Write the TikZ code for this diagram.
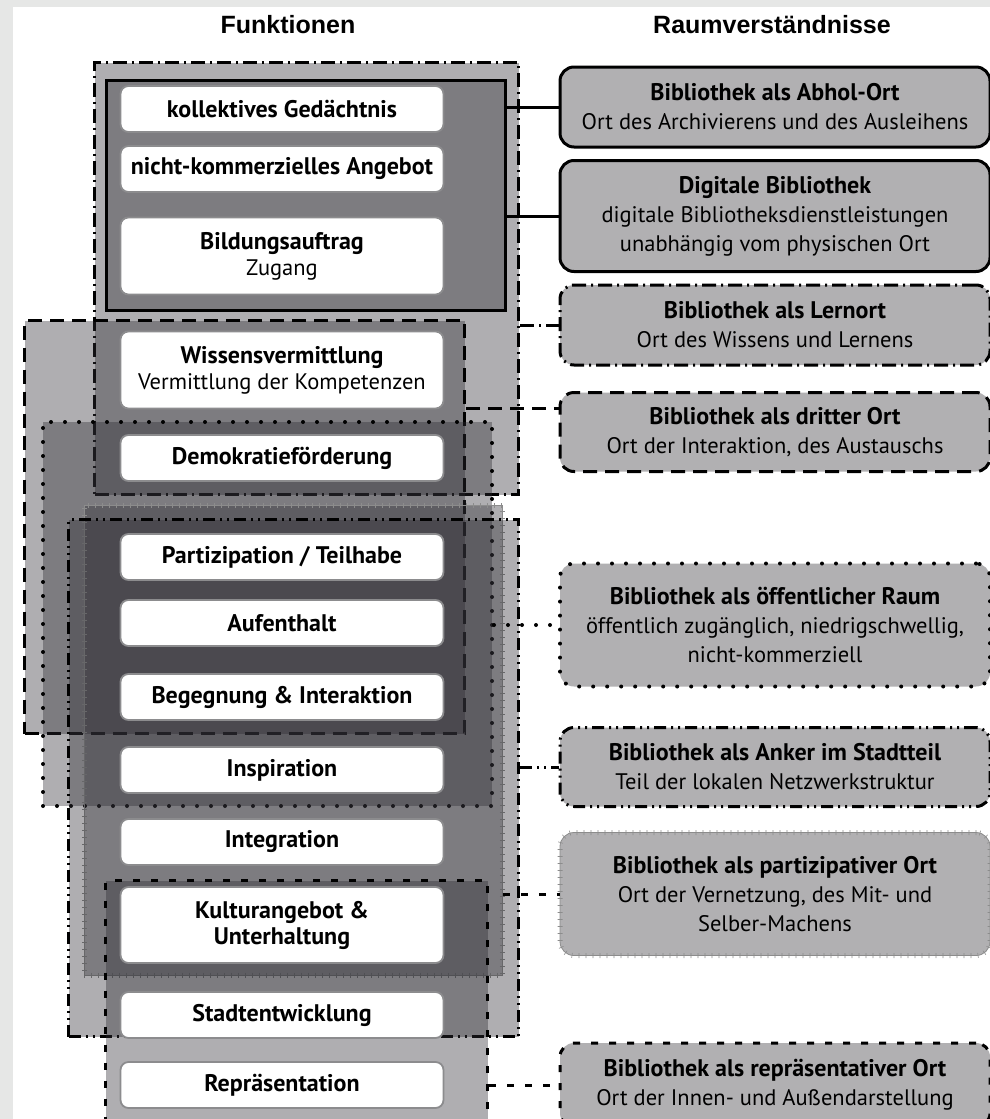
\documentclass[tikz,border=0pt]{standalone}
\usepackage{fontspec}
\setmainfont{PT Sans}
\newfontfamily\kopfschrift{Liberation Sans}
\usetikzlibrary{decorations.pathreplacing}

\definecolor{rahmengrau}{RGB}{230,231,230}
\definecolor{zonengrau}{RGB}{45,43,50}
\definecolor{kastengrau}{RGB}{177,176,178}
\definecolor{kantengrau}{RGB}{140,140,142}

\newcommand{\titel}[1]{{\bfseries\fontsize{24}{29}\selectfont #1}}
\newcommand{\zeile}[1]{{\mdseries\fontsize{22.5}{26}\selectfont #1}}

\tikzset{
    kopf/.style={font=\kopfschrift\bfseries\fontsize{25}{25}\selectfont, inner sep=0pt},
    funktion/.style={draw=kantengrau, line width=1.8pt, fill=white, rounded corners=8pt,
        minimum width=323pt, minimum height=46pt, inner sep=0pt, align=center,
        font=\bfseries\fontsize{24}{26}\selectfont},
    raum/.style={line width=3pt, fill=kastengrau, rounded corners=14pt,
        minimum width=430pt, inner sep=0pt, align=center,
        font=\fontsize{22.5}{29}\selectfont},
    zone/.style={line width=3pt, fill=zonengrau, fill opacity=0.38, draw opacity=1,
        anchor=north west, inner sep=0pt},
    durchgehend/.style={draw=black},
    strichpunkt/.style={draw=black, dash pattern=on 14pt off 5pt on 2pt off 5pt},
    gestrichelt/.style={draw=black, dash pattern=on 14pt off 8pt},
    gepunktet/.style={draw=black, line width=4pt, line cap=round, dash pattern=on 0pt off 14pt},
    strichzweipunkt/.style={draw=black, dash pattern=on 12pt off 5pt on 2pt off 5pt on 2pt off 5pt},
    kurzstrich/.style={draw=black, dash pattern=on 7pt off 11pt},
    zacken/.style={draw=black!45, line width=0.8pt,
        postaction={decorate, draw=black!45, fill=none, line width=0.6pt,
        decoration={ticks, segment length=7pt, amplitude=2.5pt}}},
    verbinder/.style={line width=3pt},
}

\begin{document}
\begin{tikzpicture}[x=1pt, y=-1pt]
    \useasboundingbox (0,0) rectangle (990,1119);
    \clip (0,0) rectangle (990,1119);
    \fill[rahmengrau] (0,0) rectangle (990,1119);
    \fill[white] (13,7) rectangle (990,1119);

    \node[kopf] (h1) at (288,25) {Funktionen};
    \node[kopf] (h2) at (772,25) {Raumverständnisse};

    % Bereiche hinter den Funktionen
    \node[zone, strichpunkt, minimum width=424pt, minimum height=432pt] (z1) at (93,61) {};
    \node[zone, durchgehend, minimum width=399pt, minimum height=230pt] (z2) at (105,79) {};
    \node[zone, gestrichelt, minimum width=440pt, minimum height=413pt] (z3) at (23,319) {};
    \node[zone, gepunktet, minimum width=449pt, minimum height=384pt] (z4) at (41,420) {};
    \node[zone, zacken, line width=0.8pt, minimum width=418pt, minimum height=470pt] (z5) at (84,505) {};
    \node[zone, strichzweipunkt, minimum width=450pt, minimum height=517pt] (z6) at (67,518) {};
    \node[zone, kurzstrich, minimum width=382pt, minimum height=260pt] (z7) at (104,879) {};

    % Funktionen
    \node[funktion] (f01) at (282,109) {kollektives Gedächtnis};
    \node[funktion] (f02) at (282,169) {nicht-kommerzielles Angebot};
    \node[funktion, minimum height=77pt] (f03) at (282,256) {Bildungsauftrag\\\zeile{Zugang}};
    \node[funktion, minimum height=77pt] (f04) at (282,370) {Wissensvermittlung\\\zeile{Vermittlung der Kompetenzen}};
    \node[funktion] (f05) at (282,458) {Demokratieförderung};
    \node[funktion] (f06) at (282,557) {Partizipation / Teilhabe};
    \node[funktion] (f07) at (282,623) {Aufenthalt};
    \node[funktion] (f08) at (282,697) {Begegnung \& Interaktion};
    \node[funktion] (f09) at (282,770) {Inspiration};
    \node[funktion] (f10) at (282,842) {Integration};
    \node[funktion, minimum height=76pt] (f11) at (282,925) {Kulturangebot \&\\Unterhaltung};
    \node[funktion] (f12) at (282,1015) {Stadtentwicklung};
    \node[funktion] (f13) at (282,1085) {Repräsentation};

    % Raumverstaendnisse
    \node[raum, durchgehend, minimum height=80pt] (r01) at (775,107)
        {\titel{Bibliothek als Abhol-Ort}\\Ort des Archivierens und des Ausleihens};
    \node[raum, durchgehend, minimum height=111pt] (r02) at (775,216)
        {\titel{Digitale Bibliothek}\\digitale Bibliotheksdienstleistungen\\unabhängig vom physischen Ort};
    \node[raum, strichpunkt, minimum height=80pt] (r03) at (775,325)
        {\titel{Bibliothek als Lernort}\\Ort des Wissens und Lernens};
    \node[raum, gestrichelt, minimum height=79pt] (r04) at (775,432)
        {\titel{Bibliothek als dritter Ort}\\Ort der Interaktion, des Austauschs};
    \node[raum, gepunktet, minimum height=123pt] (r05) at (775,625)
        {\titel{Bibliothek als öffentlicher Raum}\\öffentlich zugänglich, niedrigschwellig,\\nicht-kommerziell};
    \node[raum, strichzweipunkt, minimum height=79pt] (r06) at (775,767)
        {\titel{Bibliothek als Anker im Stadtteil}\\Teil der lokalen Netzwerkstruktur};
    \node[raum, zacken, line width=0.8pt, minimum height=123pt] (r07) at (775,894)
        {\titel{Bibliothek als partizipativer Ort}\\Ort der Vernetzung, des Mit- und\\Selber-Machens};
    \node[raum, kurzstrich, minimum height=84pt] (r08) at (775,1085)
        {\titel{Bibliothek als repräsentativer Ort}\\Ort der Innen- und Außendarstellung};

    \coordinate (c04) at ([yshift=24pt]r04.west);

    \draw[verbinder, durchgehend] (r01.west -| z2.east) -- (r01.west);
    \draw[verbinder, durchgehend] (r02.west -| z2.east) -- (r02.west);
    \draw[verbinder, strichpunkt] (r03.west -| z1.east) -- (r03.west);
    \draw[verbinder, gestrichelt] (c04 -| z3.east) -- (c04);
    \draw[verbinder, gepunktet] (r05.west -| z4.east) -- (r05.west);
    \draw[verbinder, strichzweipunkt] (r06.west -| z6.east) -- (r06.west);
    \draw[verbinder, kurzstrich] (r07.west -| z5.east) -- (r07.west);
    \draw[verbinder, kurzstrich] (r08.west -| z7.east) -- (r08.west);
\end{tikzpicture}
\end{document}
